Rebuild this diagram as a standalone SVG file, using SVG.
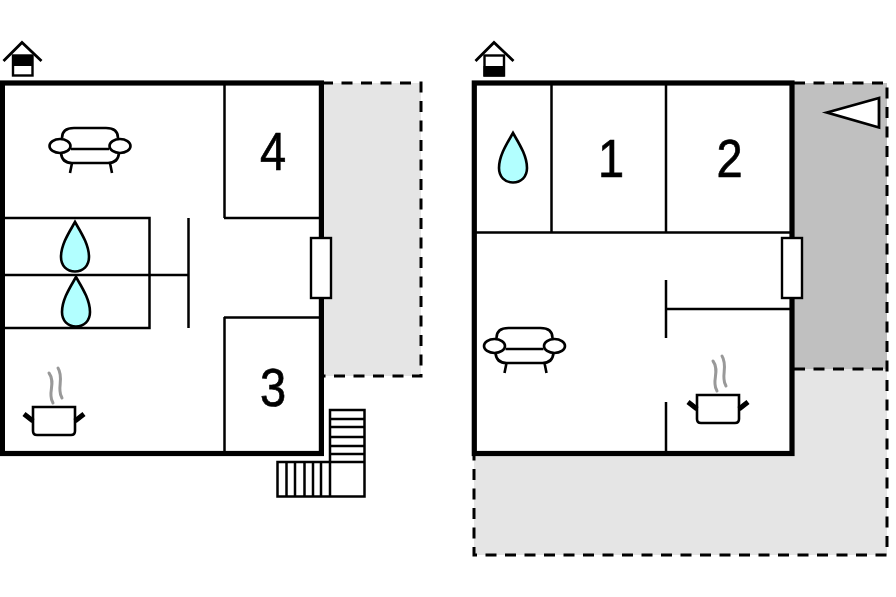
<svg xmlns="http://www.w3.org/2000/svg" width="896" height="597" viewBox="0 0 896 597">
<style>
.wall{fill:none;stroke:#000;stroke-width:5.200;stroke-linejoin:miter}
.in{fill:none;stroke:#000;stroke-width:2.500}
.ico{fill:none;stroke:#000;stroke-width:2.600}
.dash{stroke:#000;stroke-width:3;stroke-dasharray:11 8.500;fill:none}
.door{fill:#fff;stroke:#000;stroke-width:2.400}
.drop{fill:#b2ffff;stroke:#000;stroke-width:2.600}
.steam{fill:none;stroke:#999;stroke-width:3;stroke-linecap:round}
.num{font-family:"Liberation Sans",Arial,sans-serif;font-size:54px;fill:#000;stroke:#000;stroke-width:.7;text-anchor:middle}
</style>
<defs>
<g id="sofa">
<path class="ico" d="M-28 -8Q-28 -18 -16 -18H16Q28 -18 28 -8M-19 3H19M-29 7Q-28 17 -18 17H18Q28 17 29 7M-18 17L-20 27M20 17L22 27"/>
<ellipse class="ico" cx="-30" cy="0" rx="10.500" ry="7"/>
<ellipse class="ico" cx="30" cy="0" rx="10.500" ry="7"/>
</g>
<path id="drop" class="drop" d="M0 0C5 9 14 22 14 35C14 44 8 49.500 0 49.500C-8 49.500 -14 44 -14 35C-14 22 -5 9 0 0Z"/>
<g id="pot">
<path class="ico" fill="#fff" d="M33 407H75V431Q75 435 71 435H37Q33 435 33 431Z"/>
<path d="M24 414L33 421M84 414L75 421" fill="none" stroke="#000" stroke-width="5"/>
<path class="steam" d="M49 373C55 381 50 390 51 396C51 399 52 401 53 403M58 368C63 376 59 385 60 391C60 394 61 396 62 398"/>
</g>
<path id="roof" d="M3.500 61L22 42.500L41.500 61" fill="none" stroke="#000" stroke-width="2.800"/>
</defs>
<g id="terrace-left">
<rect x="322" y="83" width="99" height="293" fill="#e5e5e5"/>
<path class="dash" d="M322 83H421V376H322"/>
</g>
<g id="terrace-right">
<rect x="474" y="369" width="413" height="186" fill="#e5e5e5"/>
<rect x="794" y="83" width="93" height="286" fill="#c0c0c0"/>
<rect x="474" y="83" width="320" height="371" fill="#fff"/>
<path class="dash" d="M794 83H887V555H474V454M794 369H887"/>
</g>
<g id="stairs">
<path class="in" d="M330 410H364.500V496.500H277.500V462H330ZM330 419H364.500M330 427H364.500M330 437H364.500M330 446H364.500M330 454H364.500M330 462H364.500M286.500 462V496.500M295 462V496.500M304.500 462V496.500M313 462V496.500M321 462V496.500M330 462V496.500"/>
</g>
<g id="plan-left">
<rect class="wall" x="2.400" y="83" width="319" height="370.500"/>
<path class="in" d="M224.500 83V218M224 218H320M224 317.500H320M224.500 317V453M5 218H149.500V328H5M5 275H188.500M188.500 218V328"/>
</g>
<g id="plan-right">
<rect class="wall" x="474.300" y="83" width="317.700" height="370.500"/>
<path class="in" d="M551.500 83V232M666 83V232M476 232.500H790M666 280V338M666 309H790M666 402V453"/>
</g>
<g id="door-left"><rect class="door" x="311" y="238" width="20" height="60"/></g>
<g id="door-right"><rect class="door" x="782" y="238" width="20" height="60"/></g>
<g id="compass"><path d="M827 112.500L879 98V127.500Z" fill="#fff" stroke="#000" stroke-width="2.800"/></g>
<g id="home-left">
<use href="#roof"/>
<rect x="13" y="55.500" width="19.500" height="20" fill="#fff" stroke="#000" stroke-width="2.400"/>
<rect x="12" y="55" width="21" height="11" fill="#000"/>
</g>
<g id="home-right">
<use href="#roof" x="472"/>
<rect x="484.500" y="55.500" width="19.500" height="20" fill="#fff" stroke="#000" stroke-width="2.400"/>
<rect x="483.500" y="66" width="21" height="10.500" fill="#000"/>
</g>
<g id="sofa-left"><use href="#sofa" x="90" y="146"/></g>
<g id="sofa-right"><use href="#sofa" x="524.500" y="346"/></g>
<g id="bath-1"><use href="#drop" x="75" y="222"/></g>
<g id="bath-2"><use href="#drop" x="76" y="277"/></g>
<g id="bath-3"><use href="#drop" x="513" y="133"/></g>
<g id="kitchen-left"><use href="#pot"/></g>
<g id="kitchen-right"><use href="#pot" x="664" y="-12"/></g>
<g id="room-4"><text class="num" transform="translate(273 170) scale(.87 1)">4</text></g>
<g id="room-3"><text class="num" transform="translate(273 406) scale(.87 1)">3</text></g>
<g id="room-1"><text class="num" transform="translate(611 177) scale(.87 1)">1</text></g>
<g id="room-2"><text class="num" transform="translate(729.500 177) scale(.87 1)">2</text></g>
</svg>
